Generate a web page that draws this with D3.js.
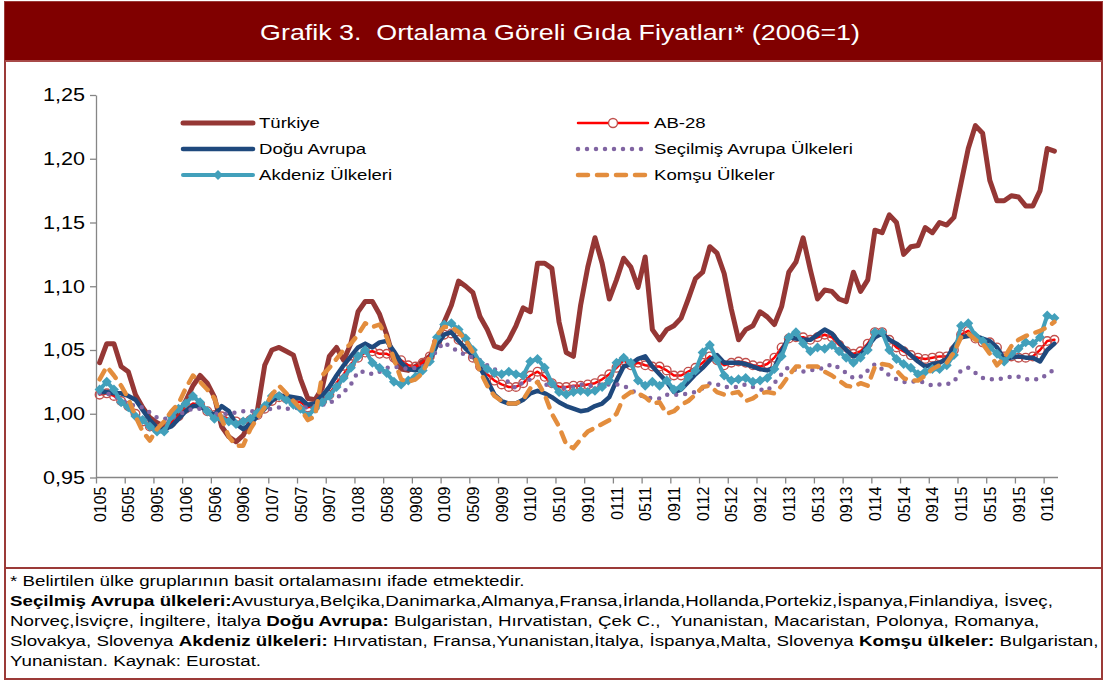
<!doctype html>
<html lang="tr">
<head>
<meta charset="utf-8">
<title>Grafik 3. Ortalama Göreli Gıda Fiyatları</title>
<script src="https://d3js.org/d3.v7.min.js"></script>
<style>
  body { margin: 0; background: #fff; }
  svg { font-family: Arial, "Liberation Sans", sans-serif; }
</style>
</head>
<body>
<div id="chart"></div>
<script>
// categories: month + two digit year
var months = [
  "0105","0205","0305","0405","0505","0605","0705","0805","0905","1005","1105","1205",
  "0106","0206","0306","0406","0506","0606","0706","0806","0906","1006","1106","1206",
  "0107","0207","0307","0407","0507","0607","0707","0807","0907","1007","1107","1207",
  "0108","0208","0308","0408","0508","0608","0708","0808","0908","1008","1108","1208",
  "0109","0209","0309","0409","0509","0609","0709","0809","0909","1009","1109","1209",
  "0110","0210","0310","0410","0510","0610","0710","0810","0910","1010","1110","1210",
  "0111","0211","0311","0411","0511","0611","0711","0811","0911","1011","1111","1211",
  "0112","0212","0312","0412","0512","0612","0712","0812","0912","1012","1112","1212",
  "0113","0213","0313","0413","0513","0613","0713","0813","0913","1013","1113","1213",
  "0114","0214","0314","0414","0514","0614","0714","0814","0914","1014","1114","1214",
  "0115","0215","0315","0415","0515","0615","0715","0815","0915","1015","1115","1215",
  "0116","0216"
];

var turkiye = [
  1.040,1.055,1.055,1.037,1.033,1.015,1.005,0.997,0.993,0.990,0.994,1.000,
  1.010,1.022,1.030,1.024,1.013,0.990,0.982,0.978,0.983,0.994,1.003,1.038,
  1.050,1.052,1.049,1.046,1.027,1.012,1.011,1.020,1.045,1.052,1.042,1.055,
  1.080,1.088,1.088,1.078,1.062,1.042,1.035,1.034,1.037,1.041,1.045,1.055,
  1.072,1.085,1.104,1.100,1.095,1.076,1.066,1.053,1.051,1.058,1.069,1.083,
  1.080,1.118,1.118,1.114,1.072,1.048,1.045,1.085,1.115,1.138,1.118,1.090,
  1.105,1.122,1.115,1.099,1.123,1.066,1.058,1.066,1.069,1.075,1.090,1.106,
  1.111,1.131,1.126,1.110,1.082,1.058,1.066,1.069,1.080,1.076,1.070,1.084,
  1.111,1.119,1.138,1.113,1.090,1.097,1.096,1.090,1.088,1.111,1.096,1.105,
  1.144,1.142,1.156,1.150,1.125,1.131,1.132,1.146,1.142,1.150,1.148,1.154,
  1.181,1.208,1.226,1.220,1.183,1.167,1.167,1.171,1.170,1.163,1.163,1.175,
  1.208,1.206
];

var ab28 = [
  1.015,1.016,1.014,1.010,1.006,1.000,0.994,0.990,0.988,0.989,0.993,0.998,
  1.004,1.008,1.007,1.002,0.999,0.998,0.996,0.994,0.993,0.995,0.999,1.004,
  1.010,1.013,1.012,1.010,1.009,1.005,1.006,1.010,1.015,1.024,1.031,1.039,
  1.044,1.048,1.049,1.047,1.047,1.044,1.042,1.038,1.037,1.040,1.045,1.056,
  1.062,1.063,1.058,1.051,1.044,1.037,1.031,1.026,1.023,1.021,1.021,1.024,
  1.030,1.033,1.029,1.024,1.021,1.021,1.022,1.022,1.023,1.024,1.027,1.031,
  1.036,1.042,1.038,1.040,1.038,1.037,1.037,1.034,1.030,1.030,1.033,1.036,
  1.040,1.045,1.042,1.038,1.040,1.041,1.040,1.038,1.037,1.039,1.044,1.052,
  1.059,1.060,1.060,1.058,1.060,1.062,1.060,1.054,1.049,1.047,1.049,1.055,
  1.064,1.064,1.058,1.052,1.049,1.046,1.044,1.043,1.044,1.045,1.045,1.050,
  1.062,1.065,1.059,1.056,1.056,1.052,1.045,1.045,1.044,1.044,1.045,1.050,
  1.057,1.058
];

var doguAvrupa = [
  1.017,1.017,1.016,1.016,1.014,1.011,1.003,0.995,0.989,0.988,0.990,0.996,
  1.002,1.006,1.006,1.002,0.999,1.006,1.002,0.992,0.988,0.992,0.998,1.004,
  1.010,1.014,1.014,1.013,1.012,1.007,1.008,1.014,1.021,1.030,1.038,1.045,
  1.052,1.055,1.052,1.056,1.057,1.049,1.040,1.035,1.034,1.036,1.042,1.054,
  1.062,1.064,1.057,1.051,1.046,1.036,1.026,1.015,1.010,1.008,1.008,1.011,
  1.016,1.018,1.016,1.013,1.009,1.006,1.004,1.002,1.003,1.006,1.008,1.013,
  1.026,1.037,1.039,1.043,1.045,1.037,1.031,1.025,1.017,1.019,1.025,1.031,
  1.036,1.042,1.046,1.040,1.040,1.040,1.039,1.037,1.035,1.034,1.036,1.049,
  1.060,1.059,1.058,1.058,1.062,1.066,1.063,1.056,1.050,1.045,1.046,1.053,
  1.060,1.063,1.058,1.055,1.051,1.046,1.041,1.037,1.039,1.040,1.043,1.053,
  1.060,1.061,1.061,1.059,1.057,1.052,1.043,1.044,1.045,1.044,1.044,1.041,
  1.050,1.055
];

var secilmis = [
  1.016,1.016,1.014,1.011,1.008,1.006,1.005,1.001,0.997,0.996,0.997,0.999,
  1.002,1.004,1.004,1.002,1.000,1.000,1.000,1.001,1.002,1.002,1.002,1.003,
  1.004,1.005,1.004,1.004,1.005,1.005,1.006,1.007,1.008,1.012,1.017,1.023,
  1.033,1.033,1.031,1.033,1.036,1.037,1.036,1.035,1.036,1.037,1.042,1.050,
  1.056,1.052,1.049,1.046,1.044,1.042,1.038,1.035,1.032,1.024,1.020,1.025,
  1.027,1.025,1.023,1.022,1.021,1.020,1.021,1.023,1.022,1.022,1.023,1.023,
  1.023,1.022,1.019,1.015,1.013,1.012,1.012,1.015,1.015,1.015,1.016,1.017,
  1.020,1.024,1.023,1.021,1.021,1.021,1.023,1.021,1.019,1.018,1.024,1.031,
  1.037,1.034,1.033,1.034,1.035,1.036,1.039,1.036,1.032,1.028,1.029,1.034,
  1.039,1.035,1.030,1.027,1.025,1.025,1.026,1.024,1.022,1.023,1.023,1.025,
  1.034,1.036,1.032,1.028,1.027,1.027,1.028,1.029,1.029,1.027,1.027,1.027,
  1.031,1.035
];

var akdeniz = [
  1.019,1.025,1.019,1.009,1.005,0.998,0.995,0.990,0.986,0.986,0.998,1.004,
  1.008,1.014,1.009,1.002,0.996,0.996,0.994,0.992,0.994,0.996,1.001,1.006,
  1.014,1.014,1.011,1.007,1.004,0.998,1.004,1.009,1.014,1.021,1.028,1.036,
  1.045,1.050,1.040,1.036,1.032,1.025,1.023,1.026,1.029,1.034,1.041,1.060,
  1.070,1.071,1.066,1.059,1.050,1.040,1.035,1.032,1.031,1.033,1.031,1.030,
  1.041,1.043,1.036,1.024,1.017,1.015,1.017,1.018,1.017,1.018,1.021,1.026,
  1.040,1.044,1.040,1.026,1.022,1.025,1.022,1.026,1.019,1.021,1.029,1.034,
  1.048,1.054,1.042,1.030,1.026,1.027,1.028,1.025,1.026,1.028,1.035,1.045,
  1.060,1.064,1.055,1.049,1.052,1.051,1.054,1.049,1.044,1.040,1.044,1.050,
  1.064,1.064,1.050,1.043,1.039,1.036,1.031,1.033,1.035,1.035,1.038,1.046,
  1.069,1.071,1.061,1.057,1.052,1.047,1.041,1.047,1.051,1.056,1.055,1.060,
  1.077,1.075
];

var komsu = [
  1.027,1.037,1.030,1.022,1.012,0.998,0.986,0.979,0.988,0.994,1.002,1.008,
  1.020,1.030,1.025,1.019,1.012,0.996,0.982,0.975,0.975,0.988,0.997,1.005,
  1.015,1.022,1.016,1.010,1.004,0.995,0.998,1.030,1.036,1.043,1.050,1.055,
  1.062,1.071,1.068,1.070,1.060,1.043,1.027,1.025,1.027,1.032,1.045,1.062,
  1.068,1.068,1.064,1.058,1.048,1.033,1.022,1.014,1.010,1.008,1.008,1.011,
  1.020,1.025,1.015,1.000,0.990,0.976,0.973,0.980,0.986,0.989,0.992,0.995,
  1.000,1.013,1.017,1.016,1.013,1.008,1.009,1.000,1.002,1.007,1.010,1.015,
  1.021,1.022,1.017,1.015,1.016,1.017,1.010,1.012,1.016,1.017,1.016,1.022,
  1.030,1.037,1.037,1.037,1.037,1.033,1.030,1.026,1.022,1.021,1.024,1.022,
  1.037,1.039,1.038,1.034,1.028,1.026,1.026,1.030,1.035,1.038,1.040,1.048,
  1.060,1.063,1.058,1.055,1.047,1.038,1.044,1.053,1.058,1.061,1.063,1.065,
  1.068,1.072
];

var yTicks = [0.95, 1.00, 1.05, 1.10, 1.15, 1.20, 1.25];
var labelStep = 4;

var width = 1106,
    height = 682,
    margin = {top: 95, right: 48, bottom: 204.5, left: 96};

// the source picture has its text a bit wider than plain Arial
var stretch = {title: 1.22, legend: 1.24, ticks: 1.2, notes: 1.25};

var svg = d3.select("#chart")
    .append("svg")
    .attr("width", width)
    .attr("height", height);

// frame and title bar
svg.append("rect")
    .attr("x", 5).attr("y", 2)
    .attr("width", 1097).attr("height", 677)
    .attr("fill", "none")
    .attr("stroke", "#9b3a38")
    .attr("stroke-width", 2);

svg.append("rect")
    .attr("x", 5).attr("y", 2)
    .attr("width", 1097).attr("height", 58)
    .attr("fill", "#800000");

svg.append("line")
    .attr("x1", 5).attr("x2", 1102)
    .attr("y1", 61).attr("y2", 61)
    .attr("stroke", "#a84a48")
    .attr("stroke-width", 2);

svg.append("text")
    .attr("transform", "translate(560,40) scale(" + stretch.title + ",1)")
    .attr("text-anchor", "middle")
    .attr("fill", "#fff")
    .attr("xml:space", "preserve")
    .style("font-size", "22px")
    .text("Grafik 3.  Ortalama Göreli Gıda Fiyatları* (2006=1)");

// footer separator
svg.append("line")
    .attr("x1", 5).attr("x2", 1102)
    .attr("y1", 568).attr("y2", 568)
    .attr("stroke", "#9b3a38")
    .attr("stroke-width", 2);

// scales
var x = d3.scalePoint()
    .domain(d3.range(months.length))
    .range([margin.left, width - margin.right])
    .padding(0.5);

var y = d3.scaleLinear()
    .domain([0.95, 1.25])
    .range([height - margin.bottom, margin.top]);

var trLocale = d3.formatLocale({decimal: ",", thousands: ".", grouping: [3], currency: ["", ""]});
var fmt = trLocale.format(".2f");

// axes
var yAxis = svg.append("g")
    .attr("transform", "translate(" + margin.left + ",0)")
    .call(d3.axisLeft(y).tickValues(yTicks).tickFormat(fmt).tickSize(6).tickSizeOuter(0));
yAxis.selectAll("path, line").attr("stroke", "#868686").attr("stroke-width", 1.3);
yAxis.selectAll("text")
    .attr("fill", "#000")
    .attr("x", -11 / stretch.ticks)
    .attr("transform", "scale(" + stretch.ticks + ",1)")
    .style("font-size", "18px");

var xAxis = svg.append("g")
    .attr("transform", "translate(0," + (height - margin.bottom) + ")")
    .call(d3.axisBottom(x)
        .tickValues(d3.range(months.length).filter(function(i) { return i % labelStep === 0; }))
        .tickFormat(function(i) { return months[i]; })
        .tickSize(6)
        .tickSizeOuter(0));
xAxis.select(".domain")
    .attr("d", "M" + margin.left + ",0H" + (width - margin.right));
xAxis.selectAll("path, line").attr("stroke", "#868686").attr("stroke-width", 1.3);
// tick marks sit on the category boundaries, labels on the category centres
xAxis.selectAll(".tick line")
    .attr("x1", -x.step() / 2)
    .attr("x2", -x.step() / 2);
xAxis.selectAll("text")
    .attr("fill", "#000")
    .attr("transform", "rotate(-90)")
    .attr("x", -9)
    .attr("y", 0)
    .attr("dy", "0.35em")
    .attr("text-anchor", "end")
    .style("font-size", "16px");

// series
var series = [
    {name: "Türkiye", values: turkiye, color: "#953735", width: 5},
    {name: "AB-28", values: ab28, color: "#ff0000", width: 2.5, marker: "circle"},
    {name: "Doğu Avrupa", values: doguAvrupa, color: "#1f497d", width: 4.5},
    {name: "Seçilmiş Avrupa Ülkeleri", values: secilmis, color: "#8064a2", width: 4.5, dash: "0 9"},
    {name: "Akdeniz Ülkeleri", values: akdeniz, color: "#42a0bb", width: 4, marker: "diamond"},
    {name: "Komşu Ülkeler", values: komsu, color: "#e38d3d", width: 4.5, dash: "10 9"}
];

var line = d3.line()
    .x(function(d, i) { return x(i); })
    .y(function(d) { return y(d); });

// Excel style diamond: a square turned by 45 degrees
var diamond = d3.symbol().type(d3.symbolSquare).size(50);

var gLines = svg.append("g");

series.forEach(function(s) {
    var g = gLines.append("g");
    g.append("path")
        .datum(s.values)
        .attr("fill", "none")
        .attr("stroke", s.color)
        .attr("stroke-width", s.width)
        .attr("stroke-linejoin", "round")
        .attr("stroke-linecap", "round")
        .attr("stroke-dasharray", s.dash || null)
        .attr("d", line);

    if (s.marker === "circle") {
        g.selectAll("circle")
            .data(s.values)
            .enter().append("circle")
            .attr("cx", function(d, i) { return x(i); })
            .attr("cy", function(d) { return y(d); })
            .attr("r", 4.3)
            .attr("fill", "none")
            .attr("stroke", "#c0504d")
            .attr("stroke-width", 1.4);
    }
    if (s.marker === "diamond") {
        g.selectAll("path.mark")
            .data(s.values)
            .enter().append("path")
            .attr("class", "mark")
            .attr("transform", function(d, i) { return "translate(" + x(i) + "," + y(d) + ") rotate(45)"; })
            .attr("d", diamond)
            .attr("fill", s.color);
    }
});

// legend
var legendPos = [
    {x: 183, y: 123}, {x: 578, y: 123},
    {x: 183, y: 149}, {x: 578, y: 149},
    {x: 183, y: 175}, {x: 578, y: 175}
];
var legendOrder = [0, 1, 2, 3, 4, 5];

var gLegend = svg.append("g");
legendOrder.forEach(function(k, j) {
    var s = series[k],
        p = legendPos[j],
        g = gLegend.append("g").attr("transform", "translate(" + p.x + "," + p.y + ")");
    g.append("line")
        .attr("x1", 0).attr("x2", 70)
        .attr("y1", 0).attr("y2", 0)
        .attr("stroke", s.color)
        .attr("stroke-width", s.width)
        .attr("stroke-linecap", "round")
        .attr("stroke-dasharray", s.dash || null);
    if (s.marker === "circle") {
        g.append("circle").attr("cx", 35).attr("cy", 0).attr("r", 4.5)
            .attr("fill", "#fff").attr("stroke", "#c0504d").attr("stroke-width", 1.4);
    }
    if (s.marker === "diamond") {
        g.append("path").attr("transform", "translate(35,0) rotate(45)").attr("d", diamond).attr("fill", s.color);
    }
    g.append("text")
        .attr("transform", "translate(76,0) scale(" + stretch.legend + ",1)")
        .attr("dy", "0.35em")
        .style("font-size", "15px")
        .text(s.name);
});

// footnote
var notes = [
    [["* Belirtilen ülke gruplarının basit ortalamasını ifade etmektedir.", false]],
    [["Seçilmiş Avrupa ülkeleri:", true], ["Avusturya,Belçika,Danimarka,Almanya,Fransa,İrlanda,Hollanda,Portekiz,İspanya,Finlandiya, İsveç,", false]],
    [["Norveç,İsviçre, İngiltere, İtalya ", false], ["Doğu Avrupa:", true], [" Bulgaristan, Hırvatistan, Çek C.,  Yunanistan, Macaristan, Polonya, Romanya,", false]],
    [["Slovakya, Slovenya ", false], ["Akdeniz ülkeleri:", true], [" Hırvatistan, Fransa,Yunanistan,İtalya, İspanya,Malta, Slovenya ", false], ["Komşu ülkeler:", true], [" Bulgaristan,", false]],
    [["Yunanistan. Kaynak: Eurostat.", false]]
];

var gNotes = svg.append("g").style("font-size", "15px");
notes.forEach(function(parts, j) {
    var t = gNotes.append("text")
        .attr("xml:space", "preserve")
        .attr("transform", "translate(10," + (586 + j * 20) + ") scale(" + stretch.notes + ",1)");
    parts.forEach(function(p) {
        t.append("tspan")
            .attr("font-weight", p[1] ? "bold" : null)
            .text(p[0]);
    });
});
</script>
</body>
</html>
